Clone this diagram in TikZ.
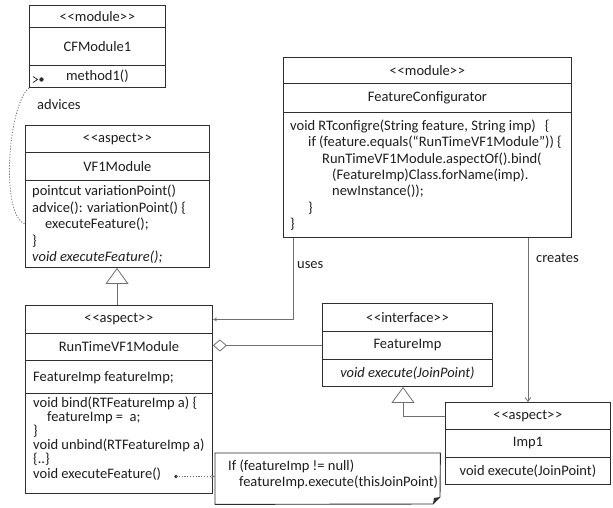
\documentclass[tikz,border=0pt]{standalone}
\usepackage{fontspec}
\setmainfont{Carlito}
\usetikzlibrary{arrows.meta}
\definecolor{boxline}{HTML}{2E2E2E}
\definecolor{linkline}{HTML}{707070}
\definecolor{inktext}{HTML}{1E1E1E}
% stereotype guillemets written as two separate angle brackets
\newcommand\stereo[1]{<\kern0.8pt<#1>\kern0.8pt>}
\begin{document}
\begin{tikzpicture}[x=1pt,y=-1pt,
  every node/.style={font=\fontsize{14.5}{16.5}\selectfont, text=inktext},
  comp/.style={draw=boxline, line width=0.9pt, anchor=north west, inner sep=0pt, fill=white},
  body/.style={anchor=base west, inner sep=0pt},
  lbl/.style={anchor=west, inner sep=0pt},
  link/.style={draw=linkline, line width=0.8pt},
  gen/.style={link, -{Triangle[open, length=16pt, width=23pt, fill=white]}},
  aggr/.style={link, {Diamond[open, length=14pt, width=12pt, fill=white]}-},
  depend/.style={link, -{Stealth[length=4pt, width=3.5pt]}},
  creation/.style={link, -{Straight Barb[length=4pt, width=6pt]}},
  dotlink/.style={link, dash pattern=on 1.2pt off 1.6pt}]
\useasboundingbox (0,0) rectangle (613,507);

% ---------- CFModule1 ----------
\node[comp, minimum width=136, minimum height=22] (cf-st) at (29,5) {\stereo{module}};
\node[comp, minimum width=136, minimum height=38] (cf-nm) at (29,27) {CFModule1};
\node[comp, minimum width=136, minimum height=22] (cf-op) at (29,65) {method1()};
\draw[boxline, line width=0.8pt] (33,76.5) -- (37.5,79.5) -- (33,82.5);
\fill[boxline] (41.5,79.5) circle (2.2);

% ---------- VF1Module ----------
\node[comp, minimum width=184, minimum height=27] (vf-st) at (25,125) {\stereo{aspect}};
\node[comp, minimum width=184, minimum height=28] (vf-nm) at (25,152) {VF1Module};
\node[comp, minimum width=184, minimum height=87] (vf-op) at (25,180) {};
\node[body] (vf-txt) at (32,195.5) {\parbox[t]{175pt}{\raggedright
  pointcut variationPoint()\\
  advice(): variationPoint() \{\\
  \hspace*{13pt}executeFeature();\\
  \}\\
  \textit{void executeFeature();}}};

% ---------- RunTimeVF1Module ----------
\node[comp, minimum width=187, minimum height=28] (rt-st) at (25,305) {\stereo{aspect}};
\node[comp, minimum width=187, minimum height=27] (rt-nm) at (25,333) {RunTimeVF1Module};
\node[comp, minimum width=187, minimum height=33] (rt-fd) at (25,360) {};
\node[comp, minimum width=187, minimum height=100] (rt-op) at (25,393) {};
\node[body] (rt-fdtxt) at (33,381) {FeatureImp featureImp;};
\node[body] (rt-txt) at (33,407) {\parbox[t]{178pt}{\fontsize{14.5}{14.2}\selectfont\raggedright
  void bind(RTFeatureImp a) \{\\
  \hspace*{14pt}featureImp = \ a;\\
  \}\\
  void unbind(RTFeatureImp a)\\
  \{..\}\\
  void executeFeature()}};
\coordinate (execdot) at (176,476.5);
\fill[boxline] (execdot) circle (1.8);

% ---------- FeatureConfigurator ----------
\node[comp, minimum width=288, minimum height=26] (fc-st) at (283,57) {\stereo{module}};
\node[comp, minimum width=288, minimum height=29] (fc-nm) at (283,83) {FeatureConfigurator};
\node[comp, minimum width=288, minimum height=125] (fc-op) at (283,112) {};
\node[body] (fc-txt) at (290,130.5) {\parbox[t]{278pt}{\fontsize{14.5}{16.3}\selectfont\raggedright
  void RTconfigre(String feature, String imp)\hspace*{9pt}\{\\
  \hspace*{18pt}if (feature.equals(“RunTimeVF1Module”)) \{\\
  \hspace*{32pt}RunTimeVF1Module.aspectOf().bind(\\
  \hspace*{42pt}(FeatureImp)Class.forName(imp).\\
  \hspace*{42pt}newInstance());\\
  \hspace*{18pt}\}\\
  \}}};

% ---------- FeatureImp ----------
\node[comp, minimum width=170, minimum height=28] (fi-st) at (322,303) {\stereo{interface}};
\node[comp, minimum width=170, minimum height=28] (fi-nm) at (322,331) {FeatureImp};
\node[comp, minimum width=170, minimum height=27] (fi-op) at (322,359) {\textit{void execute(JoinPoint)}};

% ---------- Imp1 ----------
\node[comp, minimum width=165, minimum height=27] (im-st) at (445,402) {\stereo{aspect}};
\node[comp, minimum width=165, minimum height=28] (im-nm) at (445,429) {Imp1};
\node[comp, minimum width=165, minimum height=27] (im-op) at (445,457) {void execute(JoinPoint)};

% ---------- note ----------
\node[anchor=north west, minimum width=225, minimum height=51, inner sep=0pt] (note) at (215,453) {};
\draw[boxline, line width=0.9pt, fill=white]
  (note.north west) -- (note.north east) -- (440,497) -- (433,504) -- (note.south west) -- cycle;
\fill[boxline] (440,497) -- (433,504) -- (434,498) -- cycle;
\node[body] (note-txt) at (228,470.5) {\parbox[t]{210pt}{\raggedright\fontsize{14.5}{16}\selectfont
  If (featureImp != null)\\
  \hspace*{11pt}featureImp.execute(thisJoinPoint)}};

% ---------- connectors ----------
% advice link from the woven method to the aspect
\draw[dotlink] (cf-op.south west) .. controls (8,105) and (0,215) .. (vf-op.west |- 0,224);
\node[lbl] (advices) at (37,105) {advices};

% aspect inheritance
\draw[gen] (rt-st.north -| 117,0) -- (vf-op.south -| 117,0);

% configurator uses the runtime aspect
\coordinate (usesfrom) at (fc-op.south -| 293,0);
\draw[depend] (usesfrom) |- (rt-st.east);
\node[lbl] (uses) at (297,265) {uses};

% configurator creates the implementation
\coordinate (createsfrom) at (fc-op.south -| 528,0);
\draw[creation] (createsfrom) -- (createsfrom |- im-st.north);
\node[lbl] (creates) at (536,258) {creates};

% aggregation of the feature implementation
\draw[aggr] (rt-nm.east |- fi-nm.west) -- (fi-nm.west);

% Imp1 implements FeatureImp
\draw[gen] (im-st.west) -| (fi-op.south -| 403,0);

% note attached to executeFeature()
\draw[dotlink, -{Stealth[length=4pt, width=3.5pt]}] (execdot) -- (note.west |- execdot);
\end{tikzpicture}
\end{document}
